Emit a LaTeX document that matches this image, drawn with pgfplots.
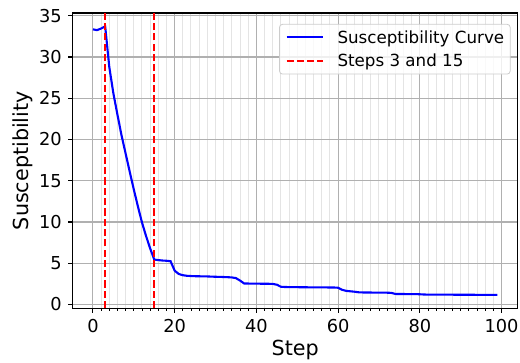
\documentclass[border=0pt]{standalone}
\usepackage{fontspec}
\setmainfont{DejaVu Sans}
\usepackage{pgfplots}
\pgfplotsset{compat=1.18}
\definecolor{majgrid}{HTML}{B0B0B0}
\definecolor{mingrid}{HTML}{E4E4E4}
\definecolor{legedge}{HTML}{CCCCCC}
\begin{document}
\begin{tikzpicture}
\useasboundingbox (0,0) rectangle (520pt,363pt);
\begin{axis}[
  at={(72.7pt,54.7pt)}, anchor=south west,
  scale only axis, width=445pt, height=295.3pt,
  xmin=-4.95, xmax=103.95, ymin=-0.46, ymax=35.33,
  xtick={0,20,...,100}, ytick={0,5,...,35},
  minor x tick num=9,
  xmajorgrids, ymajorgrids, xminorgrids,
  major grid style={color=majgrid, line width=1.1pt},
  minor grid style={color=mingrid, line width=1pt},
  tick align=outside, major tick length=4.5pt, minor tick length=2.6pt,
  every tick/.style={black, line width=1.1pt},
  minor tick style={black, line width=0.8pt},
  xtick pos=bottom, ytick pos=left,
  axis line style={black, line width=1.1pt},
  /pgf/number format/assume math mode=true,
  ticklabel style={font=\fontsize{17.8}{20}\selectfont, inner sep=0pt},
  xticklabel shift=6.2pt, yticklabel shift=6.2pt,
  xlabel={Step}, ylabel={Susceptibility},
  label style={font=\fontsize{20.7}{24}\selectfont},
  xlabel style={at={(axis description cs:0.5,-0.141)}, anchor=center},
  ylabel style={at={(axis description cs:-0.1117,0.5)}, anchor=center},
  legend cell align=left,
  legend image code/.code={\draw[#1, line width=2pt] (0pt,0pt) -- (36pt,0pt);},
  legend style={at={(axis description cs:0.984,0.963)}, anchor=north east,
    draw=legedge, line width=0.8pt, fill=white, fill opacity=0.8, text opacity=1,
    rounded corners=3pt, font=\fontsize{16.7}{20}\selectfont,
    inner xsep=6pt, inner ysep=6pt, row sep=9.4pt,
    nodes={inner sep=0pt},
    /tikz/every odd column/.append style={column sep=14pt}},
]
\addplot[color=blue, line width=2.1pt] coordinates {
(0,33.35) (1,33.25) (2,33.45) (3,33.7) (4,28.8) (5,25.6) (6,23.0) (7,20.5)
(8,18.3) (9,16.1) (10,13.95) (11,11.9) (12,9.95) (13,8.3) (14,6.8) (15,5.45)
(16,5.38) (17,5.33) (18,5.3) (19,5.25) (20,4.1) (21,3.7) (22,3.55) (23,3.48)
(24,3.45) (25,3.43) (26,3.42) (27,3.41) (28,3.4) (29,3.38) (30,3.36) (31,3.35)
(32,3.33) (33,3.31) (34,3.28) (35,3.2) (36,2.9) (37,2.55) (38,2.54) (39,2.53)
(40,2.53) (41,2.52) (42,2.52) (43,2.51) (44,2.5) (45,2.4) (46,2.15) (47,2.12)
(48,2.11) (49,2.1) (50,2.1) (51,2.09) (52,2.09) (53,2.08) (54,2.08) (55,2.07)
(56,2.07) (57,2.07) (58,2.06) (59,2.06) (60,2.03) (61,1.78) (62,1.65) (63,1.6)
(64,1.55) (65,1.48) (66,1.46) (67,1.45) (68,1.45) (69,1.44) (70,1.44) (71,1.43)
(72,1.43) (73,1.41) (74,1.28) (75,1.27) (76,1.27) (77,1.26) (78,1.26) (79,1.26)
(80,1.24) (81,1.21) (82,1.2) (83,1.2) (84,1.2) (85,1.19) (86,1.19) (87,1.19)
(88,1.19) (89,1.18) (90,1.18) (91,1.18) (92,1.18) (93,1.18) (94,1.17) (95,1.17)
(96,1.17) (97,1.17) (98,1.17) (99,1.17)
};
\addlegendentry{Susceptibility Curve}
\addplot[color=red, line width=2pt, dash pattern=on 7.2pt off 3.1pt] coordinates {(3,-0.46) (3,35.33)};
\addlegendentry{Steps 3 and 15}
\addplot[color=red, line width=2pt, dash pattern=on 7.2pt off 3.1pt, forget plot] coordinates {(15,-0.46) (15,35.33)};
\end{axis}
\end{tikzpicture}
\end{document}
